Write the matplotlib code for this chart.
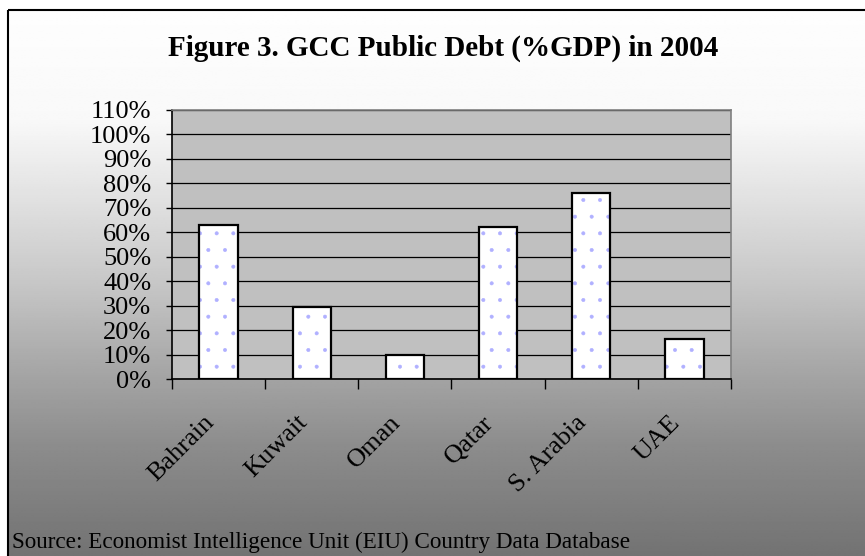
import numpy as np
import matplotlib
matplotlib.use("Agg")
import matplotlib.pyplot as plt
from matplotlib.transforms import ScaledTranslation

plt.rcParams['font.family'] = ['Liberation Serif', 'DejaVu Serif']
plt.rcParams['hatch.linewidth'] = 0.4

# ── data ──
countries = ["Bahrain", "Kuwait", "Oman", "Qatar", "S. Arabia", "UAE"]
debt_pct = [63, 29.5, 10, 62, 76, 16.5]
y_ticks = list(range(0, 111, 10))
y_labels = [f"{v}%" for v in y_ticks]

title = "Figure 3. GCC Public Debt (%GDP) in 2004"
source = "Source: Economist Intelligence Unit (EIU) Country Data Database"

W, H = 865, 556
fig = plt.figure(figsize=(W / 100, H / 100), dpi=100)
fig.patch.set_facecolor("white")

# ── gradient background inside the chart frame ──
fx0, ftop = 8 / W, (H - 10) / H
bg = fig.add_axes([fx0, 0, 1 - fx0, ftop])
bg.set_axis_off()
rows = np.linspace(0, 1, 300)  # 0 = top of frame, 1 = bottom
shade = np.interp(rows, [0, 0.2, 0.35, 0.5, 0.65, 0.8, 1.0],
                  [0.995, 0.975, 0.88, 0.78, 0.66, 0.55, 0.45])
grad = np.repeat(shade[:, None], 2, axis=1)
bg.imshow(grad, cmap="gray", vmin=0, vmax=1, aspect="auto",
          extent=[0, 1, 0, 1], interpolation="bilinear")
bg.set_xlim(0, 1)
bg.set_ylim(0, 1)
bg.plot([0, 0], [0, 1], color="black", lw=1.5, solid_capstyle="butt", clip_on=False)
bg.plot([0, 1], [1, 1], color="black", lw=1.5, solid_capstyle="butt", clip_on=False)

# ── main plot area ──
ax = fig.add_axes([172 / W, (H - 379) / H, (731 - 172) / W, (379 - 110) / H])
ax.set_facecolor("#C0C0C0")
ax.set_zorder(2)

x = np.arange(len(countries))
ax.bar(x, debt_pct, 0.41, color="white", edgecolor="#b0b0ff",
       hatch=".", linewidth=0, zorder=3)
ax.bar(x, debt_pct, 0.41, fill=False, edgecolor="black",
       linewidth=1.6, zorder=4)

ax.set_ylim(0, 110)
ax.set_xlim(-0.5, len(countries) - 0.5)
ax.set_yticks(y_ticks)
ax.set_yticklabels(y_labels, fontsize=19)
ax.yaxis.grid(True, color="black", linewidth=0.9)
ax.set_axisbelow(True)
ax.tick_params(axis="y", length=4, width=1, pad=11, colors="black")

ax.set_xticks(x)
ax.set_xticklabels(countries, fontsize=19, rotation=45, ha="right",
                   va="center", rotation_mode="anchor")
ax.set_xticks(np.arange(-0.5, len(countries)), minor=True)
ax.tick_params(axis="x", which="major", length=0, pad=29)
ax.tick_params(axis="x", which="minor", length=7, width=1)
shift = ScaledTranslation(-8 / 100, 0, fig.dpi_scale_trans)
for lbl in ax.get_xticklabels():
    lbl.set_transform(lbl.get_transform() + shift)

for side in ("left", "bottom"):
    ax.spines[side].set_color("black")
    ax.spines[side].set_linewidth(1.2)
for side in ("top", "right"):
    ax.spines[side].set_color("#808080")
    ax.spines[side].set_linewidth(1.2)

fig.text(443 / W, (H - 48) / H, title, ha="center", va="center",
         fontsize=21, fontweight="bold", zorder=5)
fig.text(12 / W, 8 / H, source, ha="left", va="baseline", fontsize=16.7, zorder=5)

fig.savefig("out.png", dpi=100)
